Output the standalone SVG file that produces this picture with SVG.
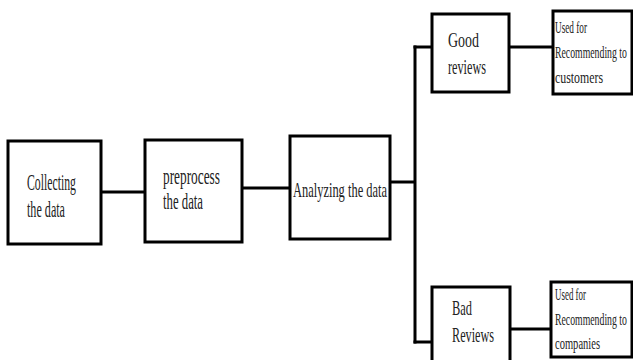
<svg xmlns="http://www.w3.org/2000/svg" width="633" height="360" viewBox="0 0 633 360">
<style>
.box{fill:#fff;stroke:#000;stroke-width:3}
.edge{stroke:#000;stroke-width:3;fill:none}
text{font-family:"Liberation Serif","Times New Roman",serif;fill:#222}
.big{font-size:24px}
.mid{font-size:22px}
.sm{font-size:17px}
</style>
<rect width="633" height="360" fill="#fff"/>
<g id="connectors">
<line class="edge" x1="101" y1="192" x2="145" y2="192"/>
<line class="edge" x1="242" y1="188" x2="290" y2="188"/>
<line class="edge" x1="390" y1="182" x2="415" y2="182"/>
<line class="edge" x1="415" y1="45.5" x2="415" y2="343.5"/>
<line class="edge" x1="413.5" y1="47" x2="432" y2="47"/>
<line class="edge" x1="413.5" y1="342" x2="432" y2="342"/>
<line class="edge" x1="509" y1="47" x2="553" y2="47"/>
<line class="edge" x1="510" y1="329" x2="551" y2="329"/>
</g>
<g id="collect">
<rect class="box" x="8" y="141" width="93" height="103"/>
<text class="big" x="27" y="190" textLength="49" lengthAdjust="spacingAndGlyphs">Collecting</text>
<text class="big" x="27" y="217" textLength="38" lengthAdjust="spacingAndGlyphs">the data</text>
</g>
<g id="preprocess">
<rect class="box" x="145" y="140" width="97" height="102"/>
<text class="big" x="163" y="184" textLength="57" lengthAdjust="spacingAndGlyphs">preprocess</text>
<text class="big" x="163" y="209" textLength="40" lengthAdjust="spacingAndGlyphs">the data</text>
</g>
<g id="analyze">
<rect class="box" x="290" y="136" width="100" height="103"/>
<text class="mid" x="293" y="197" textLength="94" lengthAdjust="spacingAndGlyphs">Analyzing the data</text>
</g>
<g id="good">
<rect class="box" x="432" y="14" width="77" height="78"/>
<text class="mid" x="448" y="47" textLength="31" lengthAdjust="spacingAndGlyphs">Good</text>
<text class="mid" x="448" y="74" textLength="38" lengthAdjust="spacingAndGlyphs">reviews</text>
</g>
<g id="bad">
<rect class="box" x="432" y="287" width="78" height="80"/>
<text class="mid" x="452" y="315" textLength="20" lengthAdjust="spacingAndGlyphs">Bad</text>
<text class="mid" x="452" y="342" textLength="42" lengthAdjust="spacingAndGlyphs">Reviews</text>
</g>
<g id="customers">
<rect class="box" x="553" y="11" width="79" height="83"/>
<text class="sm" x="555" y="33" textLength="32" lengthAdjust="spacingAndGlyphs">Used for</text>
<text class="sm" transform="translate(555,58) scale(0.575,1)">Recommending to</text>
<text class="sm" x="555" y="83" textLength="48" lengthAdjust="spacingAndGlyphs">customers</text>
</g>
<g id="companies">
<rect class="box" x="551" y="282" width="81" height="75"/>
<text class="sm" x="555" y="300" textLength="31" lengthAdjust="spacingAndGlyphs">Used for</text>
<text class="sm" transform="translate(555,325) scale(0.575,1)">Recommending to</text>
<text class="sm" x="555" y="349" textLength="45" lengthAdjust="spacingAndGlyphs">companies</text>
</g>
</svg>
